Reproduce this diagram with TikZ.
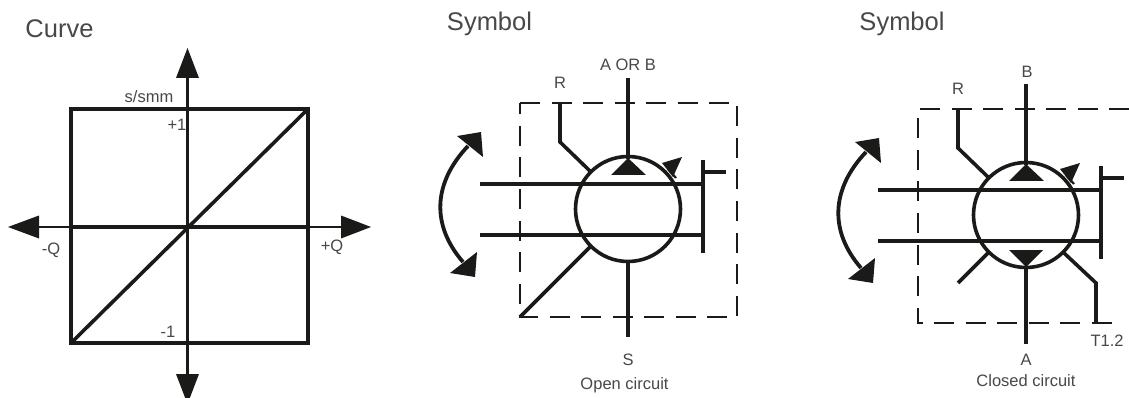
\documentclass[tikz,border=0pt]{standalone}
\usepackage{fontspec}
\setmainfont{Liberation Sans}
\definecolor{ink}{HTML}{1A1A18}
\definecolor{txt}{HTML}{484848}
\tikzset{
  x=1pt,y=-1pt,
  heavy/.style={draw=ink,line width=3.6pt},
  thin axis/.style={draw=ink,line width=2.2pt},
  dashbox/.style={draw=ink,line width=2pt,dash pattern=on 20pt off 11.5pt},
  head/.style={fill=ink,draw=none},
  lbl/.style={text=txt,font=\fontsize{16.5}{16.5}\selectfont,inner sep=0pt},
  big/.style={text=txt,font=\fontsize{25.5}{25.5}\selectfont,inner sep=0pt},
}
\newcommand{\swingarrow}[2]{%
  \begin{scope}[shift={(#1,#2)}]
    \coordinate (sa) at (468,146); \coordinate (sb) at (463,262);
    \draw[heavy,line width=3.8pt] (sa) .. controls (433,183) and (431,225) .. (sb);
    \fill[head] (481,132) -- (457,136) -- (483,157) -- cycle;
    \fill[head] (475,277) -- (450,273) -- (477,252) -- cycle;
  \end{scope}}
\newcommand{\pumpbody}[2]{%
  \begin{scope}[shift={(#1,#2)}]
    \node[circle,draw=ink,line width=3.6pt,minimum size=105pt,inner sep=0pt] (c) at (628,209) {};
    \coordinate (u1) at (480,184); \coordinate (u2) at (703,184);
    \coordinate (l1) at (480,235); \coordinate (l2) at (703,235);
    \draw[heavy] (u1) -- (u2);
    \draw[heavy] (l1) -- (l2);
    \coordinate (b1) at (703,160); \coordinate (b2) at (703,253);
    \coordinate (b3) at (703,172); \coordinate (b4) at (726,172);
    \draw[heavy] (b1) -- (b2);
    \draw[heavy] (b3) -- (b4);
    \coordinate (r1) at (560,103); \coordinate (r2) at (560,142); \coordinate (r3) at (591,172);
    \draw[heavy] (r1) -- (r2) -- (r3);
    \draw[heavy,line width=2.2pt] (668,169) -- (676,178);
    \fill[head] (682,157) -- (662,163) -- (673,177) -- cycle;
    \coordinate (t1) at (628,78);
    \draw[heavy] (t1) -- (628,159);
    \fill[head] (628,158) -- (611,175) -- (646,175) -- cycle;
  \end{scope}}
\begin{document}
\begin{tikzpicture}
\useasboundingbox (0,0) rectangle (1129,398);
\clip (0,0) rectangle (1129,398);
\fill[white] (0,0) rectangle (1129,398);
% Curve panel
\node[big] (tc) at (59.5,29) {Curve};
\node[lbl] (ls) at (149,97) {s/smm};
\node[lbl] (lp) at (177,125) {+1};
\node[lbl] (lm) at (168,332) {-1};
\node[lbl] (lq) at (51,250) {-Q};
\node[lbl] (rq) at (332,247) {+Q};
\coordinate (o) at (187.5,227);
\coordinate (bl) at (71,343); \coordinate (tr) at (308,109);
\coordinate (tip) at (187.5,78); \coordinate (bot) at (187.5,374);
\coordinate (lft) at (39,227); \coordinate (rgt) at (341,227);
\draw[thin axis] (tip) -- (bot);
\draw[thin axis] (lft) -- (rgt);
\draw[heavy] (bl) rectangle (tr);
\draw[heavy] (187.5,109) -- (187.5,343);
\draw[heavy] (71,227) -- (308,227);
\draw[heavy] (bl) -- (tr);
\fill[head] (187.5,48) -- (176,78) -- (199,78) -- cycle;
\fill[head] (187.5,404) -- (176,374) -- (199,374) -- cycle;
\fill[head] (8,227) -- (39,215.5) -- (39,238.5) -- cycle;
\fill[head] (371,227) -- (341,215.5) -- (341,238.5) -- cycle;
% Open circuit
\node[big] (ts) at (489.5,24) {Symbol};
\node[lbl] (ab) at (628,65) {A OR B};
\node[lbl] (rr) at (560,83) {R};
\node[lbl] (ss) at (628,360) {S};
\node[lbl] (oc) at (624.5,385) {Open circuit};
\coordinate (d1) at (520,103); \coordinate (d2) at (737,103);
\coordinate (d3) at (737,317); \coordinate (d4) at (520,317);
\draw[dashbox] (d1) -- (d2) -- (d3) -- (d4) -- cycle;
\swingarrow{0}{0}
\pumpbody{0}{0}
\coordinate (q1) at (591,246); \coordinate (q2) at (520,317);
\draw[heavy] (q1) -- (q2);
\coordinate (s1) at (628,262); \coordinate (s2) at (628,337);
\draw[heavy] (s1) -- (s2);
% Closed circuit
\node[big] (ts2) at (902,24) {Symbol};
\node[lbl] (bb) at (1027,72) {B};
\node[lbl] (r2l) at (958,89) {R};
\node[lbl] (t12) at (1107,341) {T1.2};
\node[lbl] (aa) at (1026,360) {A};
\node[lbl] (cc) at (1026,381) {Closed circuit};
\coordinate (e1) at (1129,109); \coordinate (e2) at (918,109);
\coordinate (e3) at (918,323); \coordinate (e4) at (1117,323);
\draw[dashbox] (e1) -- (e2) -- (e3) -- (e4);
\swingarrow{398}{6}
\pumpbody{398}{6}
\fill[head] (1026,267) -- (1009,250) -- (1043,250) -- cycle;
\coordinate (a1) at (1026,266); \coordinate (a2) at (1026,344);
\draw[heavy] (a1) -- (a2);
\coordinate (f1) at (988,253); \coordinate (f2) at (958,283);
\draw[heavy] (f1) -- (f2);
\coordinate (g1) at (1064,253); \coordinate (g2) at (1096,283); \coordinate (g3) at (1096,323);
\draw[heavy] (g1) -- (g2) -- (g3);
\end{tikzpicture}
\end{document}
